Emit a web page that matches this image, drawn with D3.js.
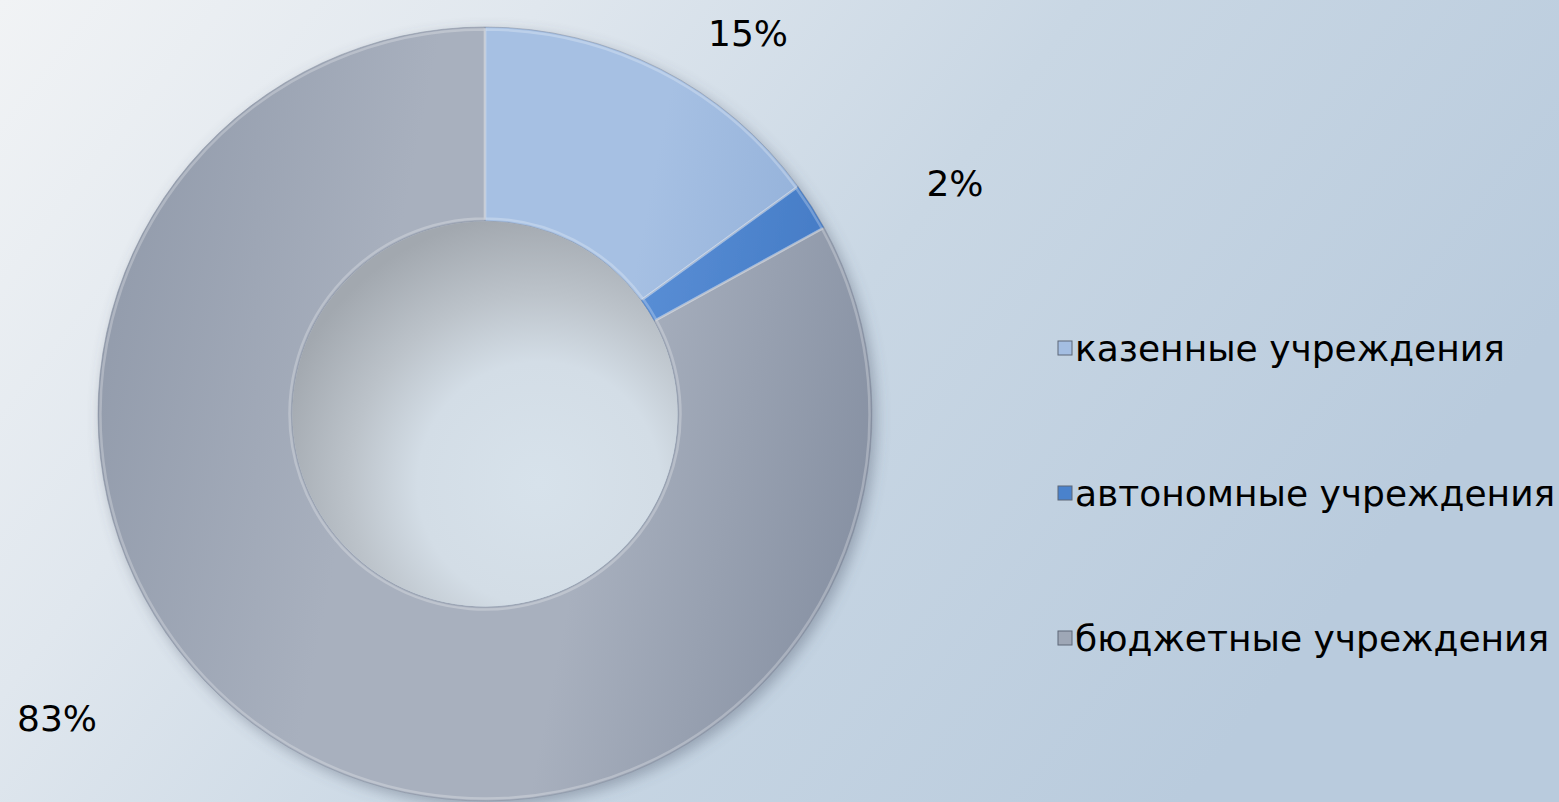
<!DOCTYPE html>
<html>
<head>
<meta charset="utf-8">
<script src="https://cdn.jsdelivr.net/npm/d3@7"></script>
<style>
  html, body { margin: 0; padding: 0; overflow: hidden; }
  body { width: 1559px; height: 802px; font-family: "DejaVu Sans", Verdana, sans-serif; }
</style>
</head>
<body>
<div id="chart"></div>
<script>
// data
const categories = ["казенные учреждения", "автономные учреждения", "бюджетные учреждения"];
const shares = [15, 2, 83];
const labels = ["15%", "2%", "83%"];

// colour stops per slice: left edge, light middle, right edge
const sliceStops = [
    ["#98b4db", "#a6c0e3", "#88a8d4"],
    ["#3f78c4", "#5a8fd6", "#3a72be"],
    ["#939cac", "#a8b0be", "#8791a3"]
];
const legendColors = ["#a4bee2", "#4a82cc", "#9ea7b6"];

const W = 1559, H = 802;
const cx = 485, cy = 414, R = 387, r = 193;

const svg = d3.select("#chart").append("svg")
    .attr("width", W)
    .attr("height", H);

const defs = svg.append("defs");

// background
const bg = defs.append("linearGradient")
    .attr("id", "bg")
    .attr("x1", "0").attr("y1", "0").attr("x2", "1").attr("y2", "0.4");
bg.append("stop").attr("offset", "0%").attr("stop-color", "#f1f3f5");
bg.append("stop").attr("offset", "30%").attr("stop-color", "#e0e7ee");
bg.append("stop").attr("offset", "60%").attr("stop-color", "#c9d7e4");
bg.append("stop").attr("offset", "100%").attr("stop-color", "#b9cbdd");

svg.append("rect")
    .attr("width", W).attr("height", H)
    .attr("fill", "url(#bg)");

// ring shadow
const shadow = defs.append("filter")
    .attr("id", "shadow")
    .attr("x", "-10%").attr("y", "-10%").attr("width", "125%").attr("height", "125%");
shadow.append("feDropShadow")
    .attr("dx", 4).attr("dy", 5).attr("stdDeviation", 7)
    .attr("flood-color", "#4f5a6b").attr("flood-opacity", 0.4);

// slice gradients, in the ring group's own coordinates
sliceStops.forEach((s, i) => {
    const g = defs.append("linearGradient")
        .attr("id", "slice" + i)
        .attr("gradientUnits", "userSpaceOnUse")
        .attr("x1", -R).attr("y1", -R * 0.2)
        .attr("x2", R).attr("y2", R * 0.2);
    g.append("stop").attr("offset", "0%").attr("stop-color", s[0]);
    g.append("stop").attr("offset", "35%").attr("stop-color", s[1]);
    g.append("stop").attr("offset", "65%").attr("stop-color", s[1]);
    g.append("stop").attr("offset", "100%").attr("stop-color", s[2]);
});

// hole shading
const hole = defs.append("radialGradient")
    .attr("id", "hole")
    .attr("cx", "64%").attr("cy", "68%").attr("r", "70%");
hole.append("stop").attr("offset", "0%").attr("stop-color", "#d7e2eb");
hole.append("stop").attr("offset", "45%").attr("stop-color", "#d3dde6");
hole.append("stop").attr("offset", "70%").attr("stop-color", "#bcc3ca");
hole.append("stop").attr("offset", "100%").attr("stop-color", "#a2a8af");

const pie = d3.pie().sort(null).value(d => d);
const arcs = pie(shares);

const arc = d3.arc().innerRadius(r).outerRadius(R);
const rimArc = d3.arc().innerRadius(r + 2.5).outerRadius(R - 2.5);

const ring = svg.append("g").attr("transform", `translate(${cx},${cy})`);

ring.append("g")
    .attr("filter", "url(#shadow)")
    .selectAll("path")
    .data(arcs)
    .join("path")
    .attr("d", arc)
    .attr("fill", (d, i) => `url(#slice${i})`)
    .attr("stroke", "#7c8596")
    .attr("stroke-opacity", 0.45)
    .attr("stroke-width", 1);

// bevel highlight along the slice edges
ring.selectAll(".rim")
    .data(arcs)
    .join("path")
    .attr("class", "rim")
    .attr("d", rimArc)
    .attr("fill", "none")
    .attr("stroke", "#ffffff")
    .attr("stroke-opacity", 0.25)
    .attr("stroke-width", 2.5);

// hole
ring.append("circle")
    .attr("r", r - 0.5)
    .attr("fill", "url(#hole)");

// percentage labels
const labelPos = [[748, 46], [955, 196], [57, 731]];
svg.selectAll(".pct")
    .data(labels)
    .join("text")
    .attr("class", "pct")
    .attr("x", (d, i) => labelPos[i][0])
    .attr("y", (d, i) => labelPos[i][1])
    .attr("text-anchor", "middle")
    .attr("font-size", 36)
    .attr("fill", "#000")
    .text(d => d);

// legend
const legend = svg.append("g").attr("transform", "translate(1058,0)");
const ly = d3.scalePoint().domain(categories).range([349, 639]);

legend.selectAll("rect")
    .data(categories)
    .join("rect")
    .attr("x", 0)
    .attr("y", d => ly(d) - 8)
    .attr("width", 14).attr("height", 14)
    .attr("fill", (d, i) => legendColors[i])
    .attr("stroke", "#5d6777")
    .attr("stroke-width", 1);

legend.selectAll("text")
    .data(categories)
    .join("text")
    .attr("x", 17)
    .attr("y", d => ly(d) + 12)
    .attr("font-size", 36)
    .attr("fill", "#000")
    .text(d => d);
</script>
</body>
</html>
